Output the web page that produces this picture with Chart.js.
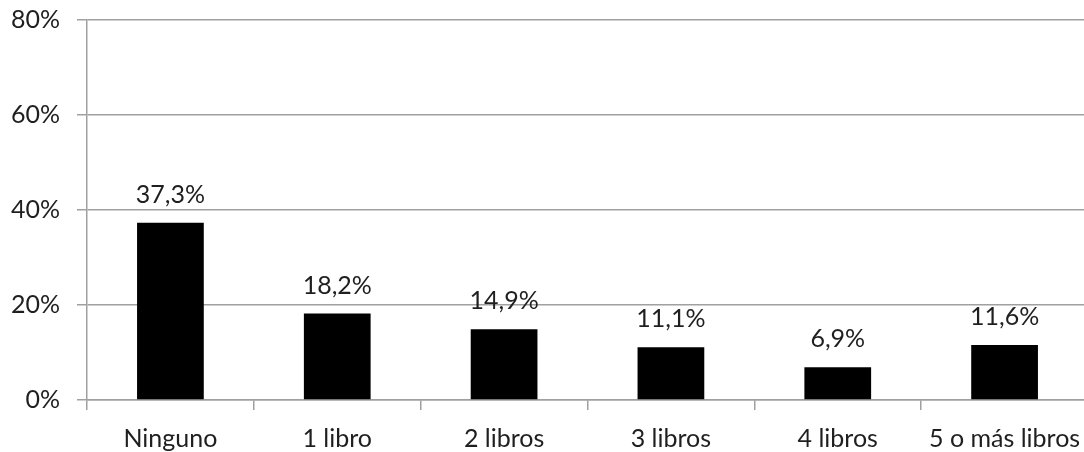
<!DOCTYPE html>
<html>
<head>
<meta charset="utf-8">
<script src="https://cdn.jsdelivr.net/npm/chart.js@4"></script>
<style>
    html, body { margin: 0; padding: 0; background: #fff; overflow: hidden; }
    #wrap { width: 1088px; height: 452px; }
</style>
</head>
<body>
<div id="wrap"><canvas id="chart"></canvas></div>
<script>
// Categories and values
const categories = ['Ninguno', '1 libro', '2 libros', '3 libros', '4 libros', '5 o más libros'];
const percents = [37.3, 18.2, 14.9, 11.1, 6.9, 11.6];
const yTicks = [0, 20, 40, 60, 80];

const fontFamily = 'Lato, "Open Sans", sans-serif';
const textColor = '#1f1f1f';
const lineColor = '#a0a0a0';

// Write the value above every bar, with a comma as decimal mark
const barLabels = {
    id: 'barLabels',
    afterDatasetsDraw: (chart) => {
        const ctx = chart.ctx;
        const meta = chart.getDatasetMeta(0);
        ctx.save();
        ctx.font = '25px ' + fontFamily;
        ctx.fillStyle = textColor;
        ctx.textAlign = 'center';
        ctx.textBaseline = 'alphabetic';
        meta.data.forEach((bar, i) => {
            let txt = percents[i].toFixed(1).replace('.', ',') + '%';
            ctx.fillText(txt, bar.x, bar.y - 20);
        });
        ctx.restore();
    }
};

new Chart(document.getElementById('chart'), {
    type: 'bar',
    data: {
        labels: categories,
        datasets: [{
            data: percents,
            backgroundColor: '#000',
            borderWidth: 0,
            barPercentage: 0.4,
            categoryPercentage: 1
        }]
    },
    options: {
        responsive: true,
        maintainAspectRatio: false,
        animation: false,
        events: [],
        layout: { padding: { top: 20, right: 0, left: 0, bottom: 0 } },
        plugins: {
            legend: { display: false },
            tooltip: { enabled: false }
        },
        scales: {
            x: {
                grid: {
                    display: true,
                    drawOnChartArea: false,
                    drawTicks: true,
                    tickLength: 10,
                    color: lineColor,
                    lineWidth: 1.5
                },
                border: { display: true, color: lineColor, width: 1.5 },
                ticks: {
                    color: textColor,
                    font: { family: fontFamily, size: 25 },
                    padding: 14,
                    maxRotation: 0,
                    autoSkip: false
                },
                afterFit: (scale) => {
                    scale.height = 52;
                    scale.paddingLeft = 0;
                    scale.paddingRight = 0;
                }
            },
            y: {
                min: 0,
                max: 80,
                afterBuildTicks: (scale) => {
                    scale.ticks = yTicks.map(v => ({ value: v }));
                },
                grid: {
                    color: lineColor,
                    lineWidth: 1.5,
                    drawTicks: true,
                    tickLength: 10
                },
                border: { display: true, color: lineColor, width: 1.5 },
                ticks: {
                    color: textColor,
                    font: { family: fontFamily, size: 25 },
                    padding: 17,
                    callback: (v) => v + '%'
                },
                afterFit: (scale) => {
                    scale.width = 87;
                    scale.paddingTop = 0;
                    scale.paddingBottom = 0;
                }
            }
        }
    },
    plugins: [barLabels]
});
</script>
</body>
</html>
